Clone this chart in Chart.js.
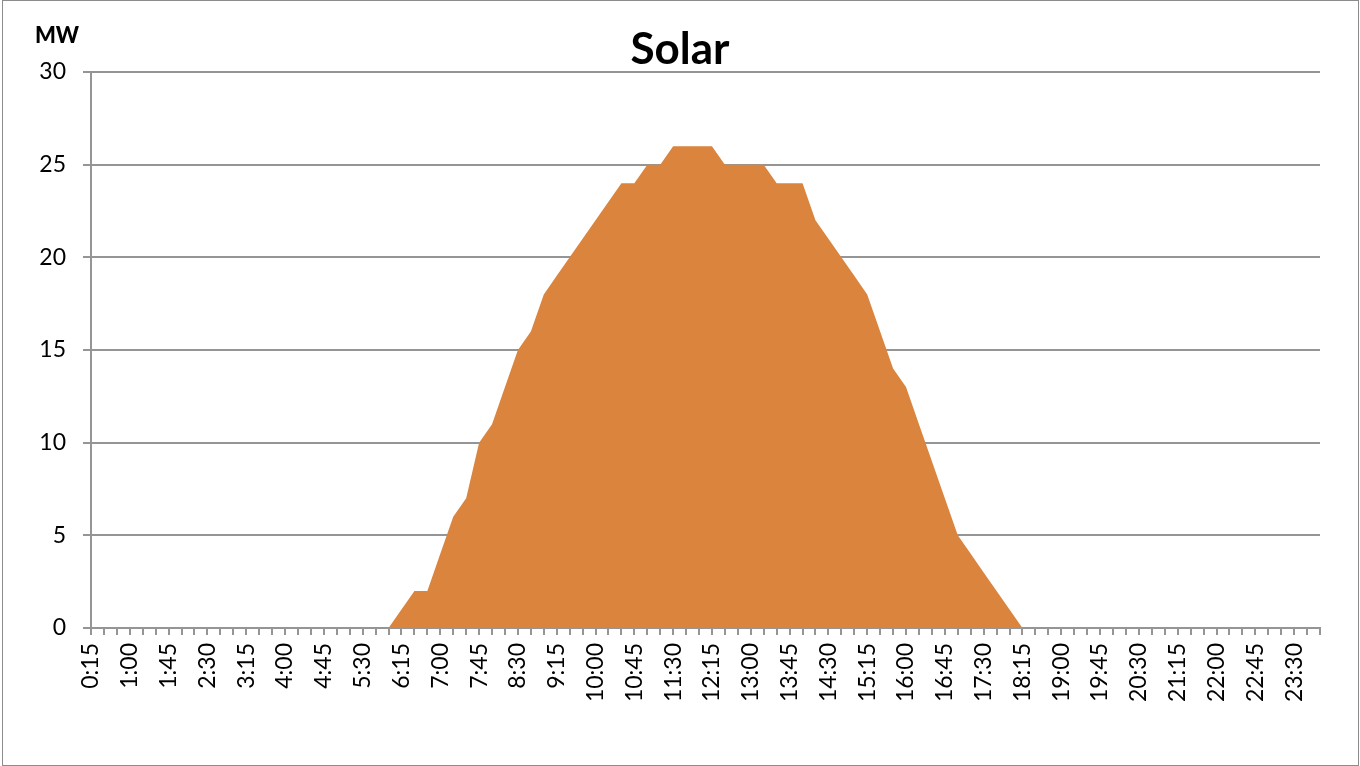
<!DOCTYPE html>
<html>
<head>
<meta charset="utf-8">
<script src="https://cdn.jsdelivr.net/npm/chart.js@4"></script>
<style>
  html, body { margin: 0; padding: 0; background: #fff; }
</style>
</head>
<body>
<canvas id="solar" width="1360" height="766"></canvas>
<script>
const times = [
  '0:15','0:30','0:45','1:00','1:15','1:30','1:45','2:00','2:15','2:30','2:45','3:00',
  '3:15','3:30','3:45','4:00','4:15','4:30','4:45','5:00','5:15','5:30','5:45','6:00',
  '6:15','6:30','6:45','7:00','7:15','7:30','7:45','8:00','8:15','8:30','8:45','9:00',
  '9:15','9:30','9:45','10:00','10:15','10:30','10:45','11:00','11:15','11:30','11:45','12:00',
  '12:15','12:30','12:45','13:00','13:15','13:30','13:45','14:00','14:15','14:30','14:45','15:00',
  '15:15','15:30','15:45','16:00','16:15','16:30','16:45','17:00','17:15','17:30','17:45','18:00',
  '18:15','18:30','18:45','19:00','19:15','19:30','19:45','20:00','20:15','20:30','20:45','21:00',
  '21:15','21:30','21:45','22:00','22:15','22:30','22:45','23:00','23:15','23:30','23:45','24:00'
];

const solarMW = [
  0,0,0,0,0,0,0,0,0,0,0,0,
  0,0,0,0,0,0,0,0,0,0,0,0,
  1,2,2,4,6,7,10,11,13,15,16,18,
  19,20,21,22,23,24,24,25,25,26,26,26,
  26,25,25,25,25,24,24,24,22,21,20,19,
  18,16,14,13,11,9,7,5,4,3,2,1,
  0,0,0,0,0,0,0,0,0,0,0,0,
  0,0,0,0,0,0,0,0,0,0,0,0
];

const yUnit = 'MW';
const gray = '#959595';
const font = 'Lato';

// white background, outer frame and the unit label
const frame = {
  id: 'frame',
  beforeDraw(chart) {
    const ctx = chart.ctx;
    ctx.save();
    ctx.fillStyle = '#fff';
    ctx.fillRect(0, 0, chart.width, chart.height);
    ctx.strokeStyle = '#8c8c8c';
    ctx.lineWidth = 1;
    ctx.strokeRect(2.5, 0.5, chart.width - 4, chart.height - 1);
    ctx.restore();
  },
  afterDraw(chart) {
    const ctx = chart.ctx;
    ctx.save();
    ctx.font = '900 22px "' + font + '"';
    ctx.fillStyle = '#000';
    ctx.textAlign = 'center';
    ctx.textBaseline = 'middle';
    ctx.fillText(yUnit, 57, 36);
    ctx.restore();
  }
};

new Chart(document.getElementById('solar'), {
  type: 'line',
  data: {
    labels: times,
    datasets: [{
      label: 'Solar',
      data: solarMW,
      fill: 'origin',
      backgroundColor: '#DA843D',
      borderWidth: 0,
      pointRadius: 0,
      tension: 0
    }]
  },
  options: {
    responsive: false,
    animation: false,
    layout: { padding: { left: 40, right: 40, top: 0, bottom: 0 } },
    plugins: {
      legend: { display: false },
      tooltip: { enabled: false },
      title: {
        display: true,
        text: 'Solar',
        color: '#000',
        font: { family: font, size: 44, weight: 'bold', lineHeight: 1 },
        padding: { top: 28, bottom: 0 }
      }
    },
    scales: {
      x: {
        offset: false,
        grid: { drawOnChartArea: false, tickLength: 7, tickColor: gray, color: gray, lineWidth: 2 },
        border: { color: gray, width: 2 },
        ticks: {
          autoSkip: false,
          maxRotation: 90,
          minRotation: 90,
          padding: 8,
          color: '#000',
          font: { family: font, size: 23 },
          callback: function(val, idx) {
            return idx % 3 === 0 ? times[idx] : '';
          }
        },
        afterFit: function(scale) { scale.height = 138; }
      },
      y: {
        min: 0,
        max: 30,
        grid: { color: gray, tickLength: 8, tickColor: gray, lineWidth: 2 },
        border: { color: gray, width: 2 },
        ticks: {
          stepSize: 5,
          padding: 17,
          color: '#000',
          font: { family: font, size: 23 }
        },
        afterFit: function(scale) { scale.width = 51; }
      }
    }
  },
  plugins: [frame]
});
</script>
</body>
</html>
